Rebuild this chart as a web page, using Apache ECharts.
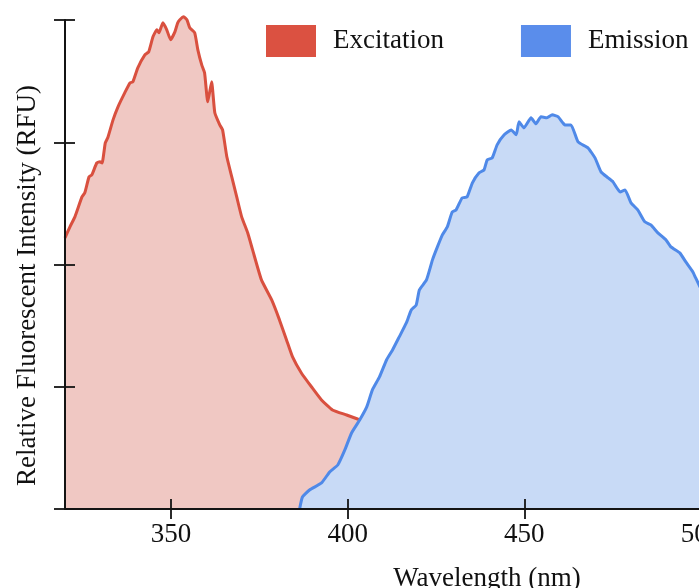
<!DOCTYPE html>
<html>
<head>
<meta charset="utf-8">
<script src="https://cdn.jsdelivr.net/npm/echarts@6/dist/echarts.min.js"></script>
<style>
  html, body { margin: 0; padding: 0; background: #fff; }
  #spectrumChart { width: 699px; height: 588px; }
</style>
</head>
<body>
<div id="spectrumChart"></div>
<script>
// excitation spectrum (nm, RFU)
const exWavelength = [320.0, 321.4, 322.8, 324.8, 325.6, 326.8, 327.6, 329.0, 329.9, 330.5,
  331.4, 332.1, 333.6, 335.0, 336.9, 338.4, 339.2, 340.6, 342.6, 343.7,
  344.9, 346.0, 346.6, 347.7, 348.8, 349.9, 351.1, 351.9, 352.5, 353.6,
  354.5, 355.3, 356.7, 357.6, 358.7, 359.5, 360.4, 361.5, 362.4, 363.8,
  364.6, 365.8, 367.2, 368.6, 370.0, 371.7, 373.1, 375.6, 378.5, 380.7,
  382.7, 384.4, 386.9, 389.8, 392.6, 395.7, 399.7, 402.8, 403.6];
const exIntensity = [2.218, 2.308, 2.390, 2.553, 2.586, 2.717, 2.733, 2.831, 2.840, 2.831,
  2.995, 3.036, 3.183, 3.290, 3.404, 3.486, 3.494, 3.609, 3.715, 3.740,
  3.863, 3.920, 3.895, 3.977, 3.920, 3.838, 3.903, 3.977, 4.002, 4.026,
  4.002, 3.936, 3.895, 3.756, 3.633, 3.568, 3.331, 3.494, 3.241, 3.142,
  3.101, 2.881, 2.717, 2.553, 2.390, 2.259, 2.119, 1.874, 1.710, 1.547,
  1.383, 1.244, 1.113, 0.998, 0.892, 0.810, 0.769, 0.736, 0.730];

// emission spectrum (nm, RFU)
const emWavelength = [386.4, 387.2, 389.2, 392.6, 394.9, 397.2, 399.2, 401.1, 403.4, 405.4,
  407.0, 409.0, 411.0, 412.7, 414.6, 416.6, 418.0, 419.4, 420.3, 422.3,
  424.0, 425.4, 426.8, 428.2, 429.6, 430.7, 432.4, 433.8, 435.3, 437.2,
  438.6, 439.5, 440.9, 442.3, 444.3, 446.3, 447.7, 448.5, 449.9, 451.9,
  453.3, 454.7, 456.4, 457.9, 459.6, 461.5, 463.2, 465.2, 468.0, 470.0,
  471.7, 473.7, 475.1, 477.1, 478.5, 480.2, 482.1, 484.1, 485.8, 487.8,
  490.1, 491.5, 494.0, 495.7, 497.7, 498.5, 500.0];
const emIntensity = [0.0, 0.098, 0.155, 0.213, 0.303, 0.360, 0.483, 0.622, 0.728, 0.835,
  0.974, 1.080, 1.219, 1.301, 1.408, 1.522, 1.628, 1.669, 1.792, 1.874,
  2.038, 2.144, 2.242, 2.308, 2.430, 2.447, 2.545, 2.553, 2.668, 2.750,
  2.774, 2.856, 2.872, 2.979, 3.061, 3.101, 3.061, 3.167, 3.118, 3.200,
  3.151, 3.208, 3.200, 3.224, 3.208, 3.142, 3.142, 3.003, 2.954, 2.872,
  2.758, 2.709, 2.676, 2.594, 2.610, 2.504, 2.447, 2.349, 2.324, 2.259,
  2.201, 2.144, 2.095, 2.021, 1.939, 1.890, 1.800];

const xTicks = [350, 400, 450, 500];
const seriesNames = ['Excitation', 'Emission'];

const font = 'Liberation Serif';
const axisColor = '#141414';

function pairs(xs, ys) {
  return xs.map((x, i) => [x, ys[i]]);
}

const chart = echarts.init(document.getElementById('spectrumChart'));
const option = {
  backgroundColor: '#ffffff',
  animation: false,
  grid: { left: 65, top: 20, width: 636, height: 489, outerBoundsMode: 'none', containLabel: false },
  legend: {
    data: seriesNames,
    left: 261,
    top: 20,
    icon: 'rect',
    itemWidth: 50,
    itemHeight: 32,
    itemGap: 77,
    itemStyle: { borderWidth: 0 },
    textStyle: { fontFamily: font, fontSize: 27, color: '#111', padding: [0, 0, 0, 12] }
  },
  xAxis: [
    {
      type: 'value', min: 320, max: 500, z: 5,
      name: 'Wavelength (nm)', nameLocation: 'middle', nameGap: 56,
      nameTextStyle: { fontFamily: font, fontSize: 27, color: '#111', padding: [0, 0, 0, 208] },
      splitLine: { show: false },
      axisLine: { show: true, lineStyle: { color: axisColor, width: 2 } },
      axisTick: { show: true, customValues: xTicks, length: 10, lineStyle: { color: axisColor, width: 1.8 } },
      axisLabel: { customValues: xTicks, margin: 12, fontFamily: font, fontSize: 27, color: '#111' }
    },
    {
      type: 'value', min: 320, max: 500, position: 'bottom', z: 5,
      splitLine: { show: false },
      axisLine: { show: false },
      axisTick: { show: true, inside: true, customValues: xTicks, length: 10, lineStyle: { color: axisColor, width: 1.8 } },
      axisLabel: { show: false }
    }
  ],
  yAxis: [
    {
      type: 'value', min: 0, max: 4, interval: 1, z: 5,
      name: 'Relative Fluorescent Intensity (RFU)', nameLocation: 'middle', nameGap: 24,
      nameTextStyle: { fontFamily: font, fontSize: 27, color: '#111', padding: [0, 42, 0, 0] },
      splitLine: { show: false },
      axisLine: { show: true, lineStyle: { color: axisColor, width: 2 } },
      axisTick: { show: true, length: 11, lineStyle: { color: axisColor, width: 1.8 } },
      axisLabel: { show: false }
    },
    {
      type: 'value', min: 0, max: 4, interval: 1, position: 'left', z: 5,
      splitLine: { show: false },
      axisLine: { show: false },
      axisTick: { show: true, inside: true, length: 10, lineStyle: { color: axisColor, width: 1.8 } },
      axisLabel: { show: false }
    }
  ],
  series: [
    {
      name: seriesNames[0],
      type: 'line',
      clip: false,
      showSymbol: false,
      symbol: 'none',
      smooth: 0.15,
      itemStyle: { color: '#db5141' },
      lineStyle: { color: '#d9503f', width: 3 },
      areaStyle: { color: '#f0c8c3', opacity: 1 },
      data: pairs(exWavelength, exIntensity)
    },
    {
      name: seriesNames[1],
      type: 'line',
      clip: false,
      showSymbol: false,
      symbol: 'none',
      smooth: 0.15,
      itemStyle: { color: '#5a8deb' },
      lineStyle: { color: '#4f89e8', width: 3 },
      areaStyle: { color: '#c8daf6', opacity: 1 },
      data: pairs(emWavelength, emIntensity)
    }
  ]
};
chart.setOption(option);
</script>
</body>
</html>
